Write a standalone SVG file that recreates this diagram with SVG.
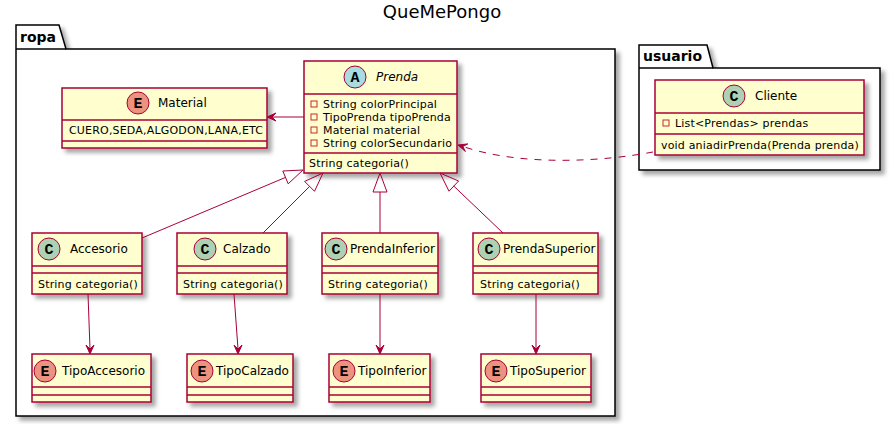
<svg xmlns="http://www.w3.org/2000/svg" width="895" height="424" viewBox="0 0 895 424">
<defs>
<filter id="sh" x="-20%" y="-20%" width="150%" height="150%">
<feDropShadow dx="4" dy="4" stdDeviation="2" flood-color="#000" flood-opacity="0.35"/>
</filter>
<style>
.box{fill:#FEFECE;stroke:#A80036;stroke-width:1.5}
.sep{stroke:#A80036;stroke-width:1.5}
.pkg{fill:#FFFFFF;stroke:#000;stroke-width:1.5}
.t{font-family:"DejaVu Sans",sans-serif;fill:#000}
.n{font-size:12px}
.m{font-size:11px;letter-spacing:0.18px}
.pk{font-family:"DejaVu Sans",sans-serif;font-size:14px;font-weight:bold}
.ci{stroke:#A80036;stroke-width:1}
.cC{fill:#ADD1B2}.cA{fill:#A9DCDF}.cE{fill:#EB937F}
.L{font-family:"Liberation Mono","DejaVu Sans Mono",monospace;font-weight:bold;font-size:15px;text-anchor:middle;fill:#000}
.vis{fill:none;stroke:#C82930;stroke-width:1}
.ln{stroke:#A80036;stroke-width:1;fill:none}
.ah{fill:#A80036;stroke:#A80036;stroke-width:1}
.tri{fill:none;stroke:#A80036;stroke-width:1}
</style>
</defs>
<text x="442" y="18" class="t" style="font-size:18px" text-anchor="middle">QueMePongo</text>

<g id="pkg-ropa">
<path class="pkg" filter="url(#sh)" d="M16,25 L59,25 L66,49 L615,49 L615,416 L16,416 Z"/>
<line x1="16" y1="49" x2="66" y2="49" stroke="#000" stroke-width="1.5"/>
<text x="20" y="42" class="pk">ropa</text>
</g>
<g id="pkg-usuario">
<path class="pkg" filter="url(#sh)" d="M639,45 L707,45 L713,68 L880,68 L880,170 L639,170 Z"/>
<line x1="639" y1="68" x2="713" y2="68" stroke="#000" stroke-width="1.5"/>
<text x="643" y="61" class="pk">usuario</text>
</g>

<g id="Material">
<rect class="box" filter="url(#sh)" x="62" y="88" width="205" height="60"/>
<line class="sep" x1="62" y1="120" x2="267" y2="120"/>
<line class="sep" x1="62" y1="141" x2="267" y2="141"/>
<circle class="ci cE" cx="138" cy="103" r="11"/>
<text class="L" x="138" y="108">E</text>
<text class="t n" x="158" y="107">Material</text>
<text class="t m" x="69" y="134">CUERO,SEDA,ALGODON,LANA,ETC</text>
</g>

<g id="Prenda">
<rect class="box" filter="url(#sh)" x="304" y="61" width="153" height="112"/>
<line class="sep" x1="304" y1="94" x2="457" y2="94"/>
<line class="sep" x1="304" y1="153" x2="457" y2="153"/>
<circle class="ci cA" cx="355" cy="77" r="11"/>
<text class="L" x="355" y="82">A</text>
<text class="t n" x="376" y="81" font-style="italic">Prenda</text>
<rect class="vis" x="311" y="101" width="6" height="6"/>
<rect class="vis" x="311" y="114" width="6" height="6"/>
<rect class="vis" x="311" y="127" width="6" height="6"/>
<rect class="vis" x="311" y="140" width="6" height="6"/>
<text class="t m" x="323" y="108">String colorPrincipal</text>
<text class="t m" x="323" y="121">TipoPrenda tipoPrenda</text>
<text class="t m" x="323" y="134">Material material</text>
<text class="t m" x="323" y="147">String colorSecundario</text>
<text class="t m" x="309" y="167">String categoria()</text>
</g>

<g id="Cliente">
<rect class="box" filter="url(#sh)" x="655" y="80" width="209" height="75"/>
<line class="sep" x1="655" y1="113" x2="864" y2="113"/>
<line class="sep" x1="655" y1="134" x2="864" y2="134"/>
<circle class="ci cC" cx="734" cy="96" r="11"/>
<text class="L" x="734" y="101">C</text>
<text class="t n" x="755" y="100">Cliente</text>
<rect class="vis" x="663" y="120" width="6" height="6"/>
<text class="t m" x="675" y="127">List&lt;Prendas&gt; prendas</text>
<text class="t m" x="661" y="149">void aniadirPrenda(Prenda prenda)</text>
</g>

<g id="Accesorio">
<rect class="box" filter="url(#sh)" x="32" y="233" width="110" height="61"/>
<line class="sep" x1="32" y1="266" x2="142" y2="266"/>
<line class="sep" x1="32" y1="273" x2="142" y2="273"/>
<circle class="ci cC" cx="49" cy="249" r="11"/>
<text class="L" x="49" y="254">C</text>
<text class="t n" x="70" y="253">Accesorio</text>
<text class="t m" x="38" y="288">String categoria()</text>
</g>
<g id="Calzado">
<rect class="box" filter="url(#sh)" x="177" y="233" width="110" height="61"/>
<line class="sep" x1="177" y1="266" x2="287" y2="266"/>
<line class="sep" x1="177" y1="273" x2="287" y2="273"/>
<circle class="ci cC" cx="205" cy="249" r="11"/>
<text class="L" x="205" y="254">C</text>
<text class="t n" x="223" y="253">Calzado</text>
<text class="t m" x="183" y="288">String categoria()</text>
</g>
<g id="PrendaInferior">
<rect class="box" filter="url(#sh)" x="322" y="233" width="116" height="61"/>
<line class="sep" x1="322" y1="266" x2="438" y2="266"/>
<line class="sep" x1="322" y1="273" x2="438" y2="273"/>
<circle class="ci cC" cx="336" cy="249" r="11"/>
<text class="L" x="336" y="254">C</text>
<text class="t n" x="350" y="253">PrendaInferior</text>
<text class="t m" x="328" y="288">String categoria()</text>
</g>
<g id="PrendaSuperior">
<rect class="box" filter="url(#sh)" x="473" y="233" width="125" height="61"/>
<line class="sep" x1="473" y1="266" x2="598" y2="266"/>
<line class="sep" x1="473" y1="273" x2="598" y2="273"/>
<circle class="ci cC" cx="489" cy="249" r="11"/>
<text class="L" x="489" y="254">C</text>
<text class="t n" x="503" y="253">PrendaSuperior</text>
<text class="t m" x="480" y="288">String categoria()</text>
</g>

<g id="TipoAccesorio">
<rect class="box" filter="url(#sh)" x="32" y="354" width="119" height="48"/>
<line class="sep" x1="32" y1="387" x2="151" y2="387"/>
<line class="sep" x1="32" y1="395" x2="151" y2="395"/>
<circle class="ci cE" cx="45" cy="371" r="11"/>
<text class="L" x="45" y="376">E</text>
<text class="t n" x="62" y="375">TipoAccesorio</text>
</g>
<g id="TipoCalzado">
<rect class="box" filter="url(#sh)" x="187" y="354" width="106" height="48"/>
<line class="sep" x1="187" y1="387" x2="293" y2="387"/>
<line class="sep" x1="187" y1="395" x2="293" y2="395"/>
<circle class="ci cE" cx="202" cy="371" r="11"/>
<text class="L" x="202" y="376">E</text>
<text class="t n" x="216" y="375">TipoCalzado</text>
</g>
<g id="TipoInferior">
<rect class="box" filter="url(#sh)" x="329" y="354" width="101" height="48"/>
<line class="sep" x1="329" y1="387" x2="430" y2="387"/>
<line class="sep" x1="329" y1="395" x2="430" y2="395"/>
<circle class="ci cE" cx="344" cy="371" r="11"/>
<text class="L" x="344" y="376">E</text>
<text class="t n" x="358" y="375">TipoInferior</text>
</g>
<g id="TipoSuperior">
<rect class="box" filter="url(#sh)" x="481" y="354" width="110" height="48"/>
<line class="sep" x1="481" y1="387" x2="591" y2="387"/>
<line class="sep" x1="481" y1="395" x2="591" y2="395"/>
<circle class="ci cE" cx="496" cy="371" r="11"/>
<text class="L" x="496" y="376">E</text>
<text class="t n" x="510" y="375">TipoSuperior</text>
</g>

<g id="connectors">
<line class="ln" x1="304" y1="117" x2="272" y2="117"/>
<polygon class="ah" points="267,117 276,113 272,117 276,121"/>
<path class="ln" stroke-dasharray="7,7" d="M653,152 C600,162 520,166 463,146.5"/>
<polygon class="ah" points="458,145 467.8,143.9 462.8,146.5 465.4,151.5"/>
<line class="ln" x1="142" y1="238" x2="285.5" y2="177.4"/>
<polygon class="tri" points="303,170 288.2,183.8 282.8,171"/>
<line class="ln" x1="263" y1="233" x2="309.6" y2="186.4"/>
<polygon class="tri" points="323,173 314.5,191.3 304.6,181.4"/>
<line class="ln" x1="380" y1="233" x2="380" y2="192"/>
<polygon class="tri" points="380,173 387,192 373,192"/>
<line class="ln" x1="503" y1="233" x2="453.8" y2="186.1"/>
<polygon class="tri" points="440,173 449,191.2 458.6,181"/>
<line class="ln" x1="88" y1="294" x2="90" y2="349"/>
<polygon class="ah" points="90,354 86,345 90,349 94,345"/>
<line class="ln" x1="234" y1="294" x2="238" y2="349"/>
<polygon class="ah" points="238,354 234,345 238,349 242,345"/>
<line class="ln" x1="380" y1="294" x2="380" y2="349"/>
<polygon class="ah" points="380,354 376,345 380,349 384,345"/>
<line class="ln" x1="536" y1="294" x2="536" y2="349"/>
<polygon class="ah" points="536,354 532,345 536,349 540,345"/>
</g>
</svg>
